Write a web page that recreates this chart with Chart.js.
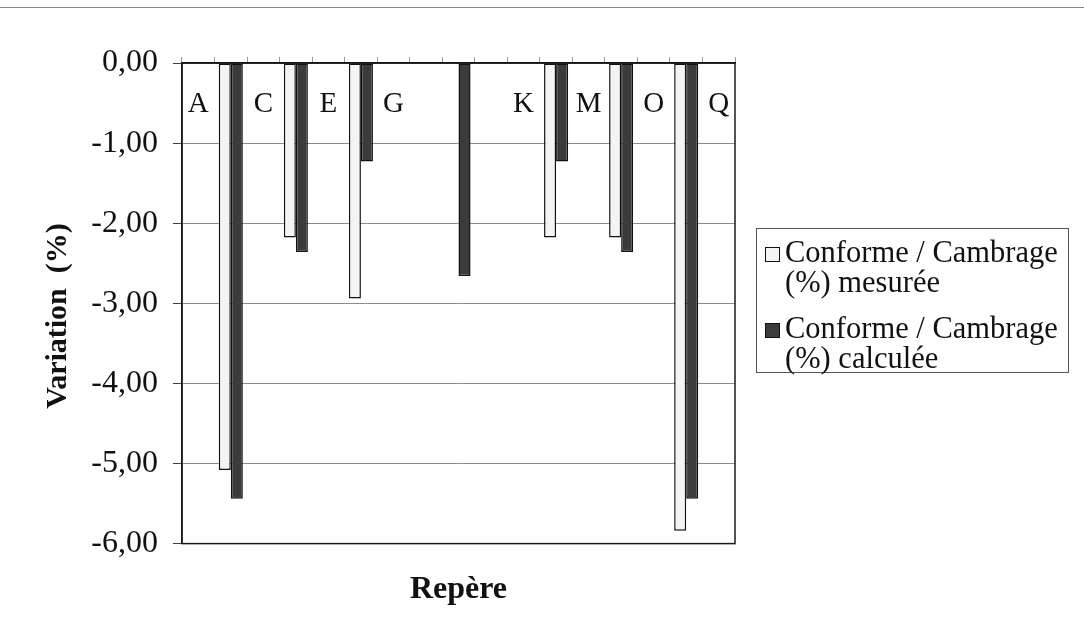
<!DOCTYPE html>
<html>
<head>
<meta charset="utf-8">
<script src="https://cdn.jsdelivr.net/npm/chart.js@4/dist/chart.umd.min.js"></script>
<style>
  html, body { margin: 0; padding: 0; background: #fff; }
  #wrap { position: relative; width: 1084px; height: 634px; overflow: hidden; background: #fff; }
  #frameTop { position: absolute; left: 0; top: 7px; width: 1084px; height: 0; border-top: 1px solid #8a8a8a; }
  canvas { position: absolute; left: 0; top: 0; }
  #legend { position: absolute; left: 756px; top: 228px; width: 313px; height: 145px;
            border: 1px solid #555; box-sizing: border-box;
            font-family: 'Liberation Serif', 'Times New Roman', serif; font-size: 30.5px; color: #111; }
  .item { position: absolute; left: 28px; width: 284px; line-height: 29.5px; white-space: normal; }
  .mk { position: absolute; left: 8px; width: 13px; height: 13px; border: 1.5px solid #111; }
</style>
</head>
<body>
<div id="wrap">
  <div id="frameTop"></div>
  <canvas id="c" width="1084" height="634"></canvas>
  <div id="legend"></div>
</div>
<script>
// ---- data ----
const categories = ['A','B','C','D','E','F','G','H','I','J','K','L','M','N','O','P','Q'];
const seriesNames = ['Conforme / Cambrage (%) mesurée', 'Conforme / Cambrage (%) calculée'];
const mesuree  = [null, -5.08, null, -2.18, null, -2.94, null, null, null,  null, null, -2.18, null, -2.18, null, -5.84, null];
const calculee = [null, -5.44, null, -2.36, null, -1.23, null, null, -2.66, null, null, -1.23, null, -2.36, null, -5.44, null];
const yTicks = [0, -1, -2, -3, -4, -5, -6];
const labelEvery = 2; // category labels shown every other category
const axisTitleX = 'Repère';
const axisTitleY = 'Variation  (%)';

const FONT = "'Liberation Serif', 'Times New Roman', serif";
const fills = ['#f4f4f4', '#3b3b3b'];

// category labels drawn just below the zero line; a label is hidden where a bar of its own category covers it
const catLabels = {
  id: 'catLabels',
  beforeDatasetsDraw(chart) {
    const ctx = chart.ctx, xs = chart.scales.x, area = chart.chartArea;
    ctx.save();
    ctx.font = '29px ' + FONT;
    ctx.fillStyle = '#111';
    ctx.textAlign = 'center';
    ctx.textBaseline = 'middle';
    categories.forEach((c, i) => {
      if (i % labelEvery !== 0) return;
      if (mesuree[i] !== null || calculee[i] !== null) return;
      ctx.fillText(c, xs.getPixelForValue(i), area.top + 41);
    });
    ctx.restore();
  }
};

const frameAndTitle = {
  id: 'frameAndTitle',
  afterDraw(chart) {
    const ctx = chart.ctx, a = chart.chartArea;
    ctx.save();
    ctx.strokeStyle = '#1a1a1a';
    ctx.lineWidth = 1.5;
    ctx.strokeRect(a.left, a.top, a.right - a.left, a.bottom - a.top);
    ctx.translate(58, 316);
    ctx.rotate(-Math.PI / 2);
    ctx.font = 'bold 30px ' + FONT;
    ctx.fillStyle = '#111';
    ctx.textAlign = 'center';
    ctx.textBaseline = 'middle';
    ctx.fillText(axisTitleY, 0, 0);
    ctx.restore();
  }
};

new Chart(document.getElementById('c'), {
  type: 'bar',
  data: {
    labels: categories,
    datasets: [
      { label: seriesNames[0], data: mesuree, backgroundColor: fills[0], borderColor: '#111', borderWidth: 1.5, borderSkipped: false },
      { label: seriesNames[1], data: calculee, backgroundColor: fills[1], borderColor: '#111', borderWidth: 1.5, borderSkipped: false }
    ]
  },
  options: {
    responsive: false,
    animation: false,
    layout: { padding: { left: 0, right: 349, top: 0, bottom: 0 } },
    datasets: { bar: { categoryPercentage: 0.74, barPercentage: 1.0 } },
    plugins: {
      legend: { display: false },
      tooltip: { enabled: false },
      title: {
        display: true, text: axisTitleX, position: 'bottom', fullSize: false,
        color: '#111', font: { family: FONT, size: 32, weight: 'bold' },
        padding: { top: 27, bottom: 25 }
      }
    },
    scales: {
      x: {
        position: 'top',
        offset: true,
        ticks: { display: false },
        grid: { display: true, offset: true, drawOnChartArea: false, drawTicks: true, tickLength: 6, color: '#999', tickColor: '#999' },
        border: { display: true, color: '#111', width: 1.5 },
        afterFit(s) { s.height = 63; }
      },
      y: {
        min: -6, max: 0,
        afterBuildTicks(s) { s.ticks = yTicks.map(v => ({ value: v })); },
        ticks: {
          color: '#111', padding: 15,
          font: { family: FONT, size: 32 },
          callback: v => Number(v).toFixed(2).replace('.', ',')
        },
        grid: { color: '#8c8c8c', lineWidth: 1, tickLength: 9, tickColor: '#444' },
        border: { display: true, color: '#111', width: 1.5 },
        afterFit(s) { s.width = 182; }
      }
    }
  },
  plugins: [catLabels, frameAndTitle]
});

// HTML legend built from the series names
const leg = document.getElementById('legend');
const tops = [9, 85];
seriesNames.forEach((name, i) => {
  const mk = document.createElement('div');
  mk.className = 'mk';
  mk.style.top = (tops[i] + 9) + 'px';
  mk.style.background = fills[i];
  leg.appendChild(mk);
  const it = document.createElement('div');
  it.className = 'item';
  it.style.top = tops[i] + 'px';
  it.textContent = name;
  leg.appendChild(it);
});
</script>
</body>
</html>
